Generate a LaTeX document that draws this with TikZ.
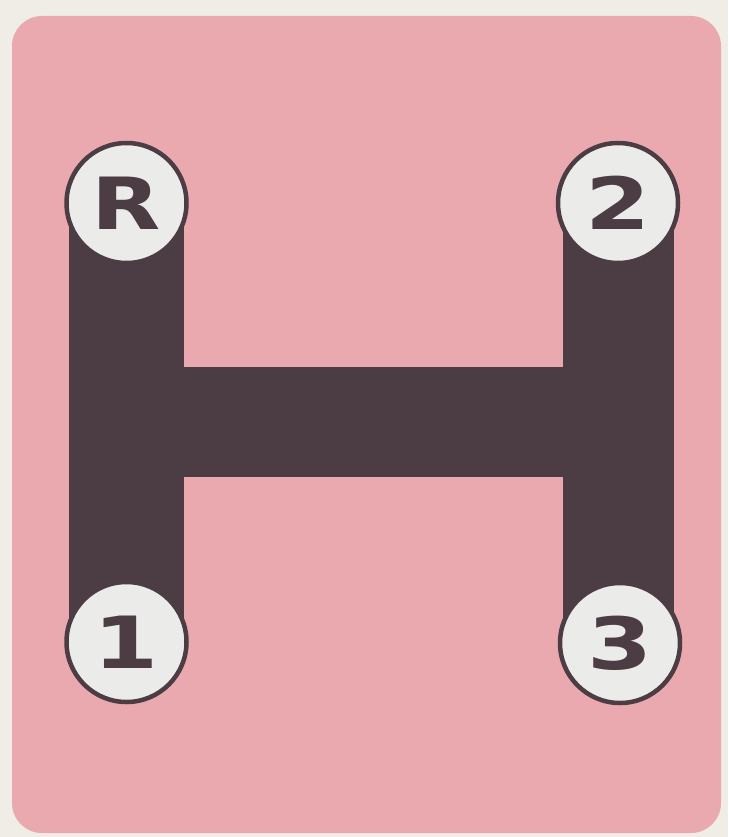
\documentclass[tikz,border=0pt]{standalone}
\usepackage{fontspec}
\newfontfamily\gearfont{DejaVu Sans}
\definecolor{paper}{HTML}{EFEDE6}
\definecolor{pinkbg}{HTML}{E9A9AF}
\definecolor{darkbar}{HTML}{4B3D43}
\definecolor{knob}{HTML}{EBEBEA}
\begin{document}
\begin{tikzpicture}[x=1pt,y=-1pt,
  gear/.style={circle,draw=darkbar,line width=4.5pt,fill=knob,minimum size=120pt,inner sep=0pt,
    font=\gearfont\bfseries\fontsize{72}{72}\selectfont,text=darkbar},
  bar/.style={draw=darkbar,line cap=butt}]
\fill[paper] (0,0) rectangle (728,837);
\useasboundingbox (0,0) rectangle (728,837);
\fill[pinkbg,rounded corners=30pt] (12,16) rectangle (721,833);
\coordinate (cR) at (126.5,203);
\coordinate (c1) at (126.5,642);
\coordinate (c2) at (618,203);
\coordinate (c3) at (618,643);
\coordinate (hL) at (126,422);
\coordinate (hR) at (618,422);
\draw[bar,line width=115pt] (cR) -- (c1);
\draw[bar,line width=111pt] (c2) -- (c3);
\draw[bar,line width=110pt] (hL) -- (hR);
\node[gear] (R) at (cR) {\scalebox{1.25}[1]{R}};
\node[gear] (two) at (c2) {\scalebox{1.3}[1]{2}};
\node[gear] (one) at (c1) {\scalebox{1.3}[1]{1}};
\node[gear] (three) at (620,643) {\scalebox{1.3}[1]{3}};
\end{tikzpicture}
\end{document}
